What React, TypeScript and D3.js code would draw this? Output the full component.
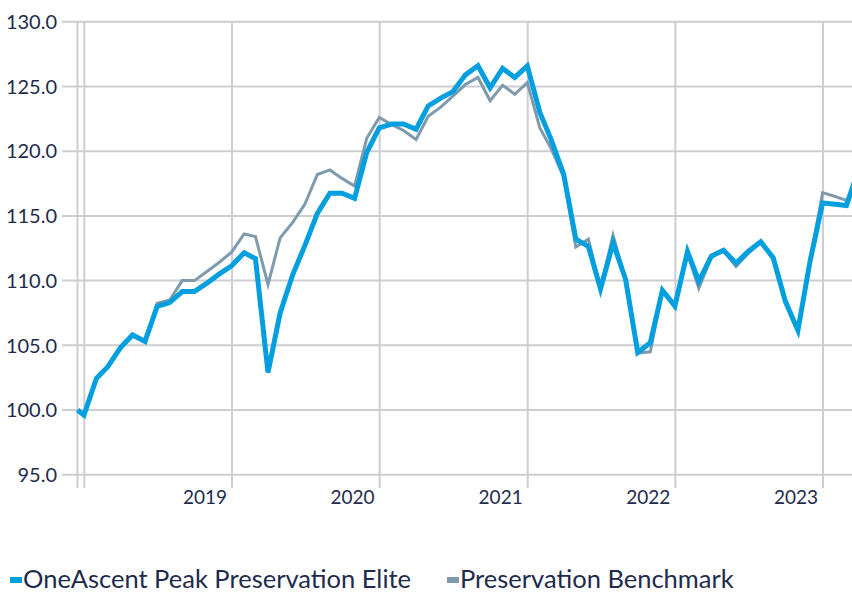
import React, { useEffect, useRef } from 'react';
import * as d3 from 'd3';

// month-end dates (first point is the inception date)
const dates = [
  '2017-12-15', '2017-12-31',
  '2018-01-31', '2018-02-28', '2018-03-31', '2018-04-30', '2018-05-31', '2018-06-30',
  '2018-07-31', '2018-08-31', '2018-09-30', '2018-10-31', '2018-11-30', '2018-12-31',
  '2019-01-31', '2019-02-28', '2019-03-31', '2019-04-30', '2019-05-31', '2019-06-30',
  '2019-07-31', '2019-08-31', '2019-09-30', '2019-10-31', '2019-11-30', '2019-12-31',
  '2020-01-31', '2020-02-29', '2020-03-31', '2020-04-30', '2020-05-31', '2020-06-30',
  '2020-07-31', '2020-08-31', '2020-09-30', '2020-10-31', '2020-11-30', '2020-12-31',
  '2021-01-31', '2021-02-28', '2021-03-31', '2021-04-30', '2021-05-31', '2021-06-30',
  '2021-07-31', '2021-08-31', '2021-09-30', '2021-10-31', '2021-11-30', '2021-12-31',
  '2022-01-31', '2022-02-28', '2022-03-31', '2022-04-30', '2022-05-31', '2022-06-30',
  '2022-07-31', '2022-08-31', '2022-09-30', '2022-10-31', '2022-11-30', '2022-12-31',
  '2023-01-31', '2023-02-28', '2023-03-31',
];

const fundValues = [
  100.0, 99.6,
  102.45, 103.35, 104.8, 105.8, 105.3, 108.0,
  108.3, 109.15, 109.15, 109.8, 110.5, 111.15,
  112.15, 111.7, 102.9, 107.5, 110.45, 112.7,
  115.2, 116.75, 116.75, 116.35, 119.9, 121.8,
  122.1, 122.1, 121.7, 123.5, 124.1, 124.6,
  125.9, 126.6, 124.9, 126.4, 125.7, 126.6,
  123.0, 120.9, 118.2, 113.2, 112.65, 109.35,
  112.9, 110.1, 104.45, 105.2, 109.25, 108.05,
  112.25, 109.95, 111.9, 112.35, 111.35, 112.25,
  113.0, 111.75, 108.4, 106.15, 111.5, 116.0,
  115.9, 115.8, 118.7,
];

const benchmarkValues = [
  100.0, 99.6,
  102.5, 103.4, 104.8, 105.8, 105.4, 108.25,
  108.5, 110.0, 110.0, 110.7, 111.4, 112.2,
  113.6, 113.4, 109.7, 113.3, 114.5, 115.9,
  118.2, 118.55, 117.9, 117.3, 121.0, 122.6,
  122.05, 121.6, 120.9, 122.7, 123.4, 124.25,
  125.15, 125.7, 123.9, 125.1, 124.4, 125.3,
  121.8, 120.2, 118.0, 112.6, 113.2, 109.4,
  113.5, 110.1, 104.4, 104.5, 109.2, 107.9,
  112.1, 109.4, 111.8, 112.3, 111.1, 112.1,
  112.95, 111.7, 108.4, 106.15, 111.5, 116.8,
  116.5, 116.2, 118.0,
];

const yTicks = [95, 100, 105, 110, 115, 120, 125, 130];
const gridYears = ['2018', '2019', '2020', '2021', '2022', '2023'];
const labelYears = ['2019', '2020', '2021', '2022', '2023'];
const seriesNames = ['OneAscent Peak Preservation Elite', 'Preservation Benchmark'];

const BLUE = '#009fdf';
const GRAY = '#7f9aad';
const GRID = '#cdcdd2';
const TEXT = '#1e2b4d';
const FONT = 'Lato, "Open Sans", sans-serif';

export default function App() {
  const ref = useRef<SVGSVGElement>(null);

  useEffect(() => {
    const svg = d3.select(ref.current);
    svg.selectAll('*').remove();

    const parse = d3.timeParse('%Y-%m-%d');
    const parseYear = d3.timeParse('%Y');
    const xs = dates.map(d => parse(d) as Date);

    const x = d3.scaleTime()
      .domain([parseYear('2019') as Date, parseYear('2023') as Date])
      .range([232, 823]);
    const y = d3.scaleLinear().domain([95, 130]).range([474.7, 21.8]);

    const left = x(xs[0]);
    const gridLeft = 62;
    const gridRight = 852;
    const gridBottom = 488;

    // horizontal grid + y labels
    const yg = svg.append('g');
    yg.selectAll('line')
      .data(yTicks)
      .enter()
      .append('line')
      .attr('x1', gridLeft)
      .attr('x2', gridRight)
      .attr('y1', d => y(d))
      .attr('y2', d => y(d))
      .attr('stroke', GRID)
      .attr('stroke-width', 2);
    yg.selectAll('text')
      .data(yTicks)
      .enter()
      .append('text')
      .attr('x', 57)
      .attr('y', d => y(d))
      .attr('dy', '0.36em')
      .attr('text-anchor', 'end')
      .attr('fill', TEXT)
      .style('font-family', FONT)
      .style('font-size', '20px')
      .text(d => d.toFixed(1));

    // vertical grid
    const vLines = [left, ...gridYears.map(yr => x(parseYear(yr) as Date))];
    svg.append('g')
      .selectAll('line')
      .data(vLines)
      .enter()
      .append('line')
      .attr('x1', d => d)
      .attr('x2', d => d)
      .attr('y1', y(130))
      .attr('y2', gridBottom)
      .attr('stroke', GRID)
      .attr('stroke-width', 2);

    svg.append('g')
      .selectAll('text')
      .data(labelYears)
      .enter()
      .append('text')
      .attr('x', d => x(parseYear(d) as Date) - 5)
      .attr('y', 504)
      .attr('text-anchor', 'end')
      .attr('fill', TEXT)
      .style('font-family', FONT)
      .style('font-size', '19px')
      .text(d => d);

    const line = d3.line<number>()
      .x((d, i) => x(xs[i]))
      .y(d => y(d));

    svg.append('path')
      .datum(benchmarkValues)
      .attr('fill', 'none')
      .attr('stroke', GRAY)
      .attr('stroke-width', 3)
      .attr('d', line);

    svg.append('path')
      .datum(fundValues)
      .attr('fill', 'none')
      .attr('stroke', BLUE)
      .attr('stroke-width', 5)
      .attr('d', line);

    // legend
    const legend = [
      { name: seriesNames[0], color: BLUE, x: 10 },
      { name: seriesNames[1], color: GRAY, x: 447 },
    ];
    const lg = svg.append('g');
    legend.forEach(l => {
      lg.append('rect')
        .attr('x', l.x)
        .attr('y', 577)
        .attr('width', 12)
        .attr('height', 6)
        .attr('fill', l.color);
      lg.append('text')
        .attr('x', l.x + 13)
        .attr('y', 588)
        .attr('fill', TEXT)
        .style('font-family', FONT)
        .style('font-size', '25.5px')
        .text(l.name);
    });
  }, []);

  return (
    <svg
      ref={ref}
      width={852}
      height={593}
      style={{ position: 'absolute', left: 0, top: 0, background: '#fff' }}
    />
  );
}
